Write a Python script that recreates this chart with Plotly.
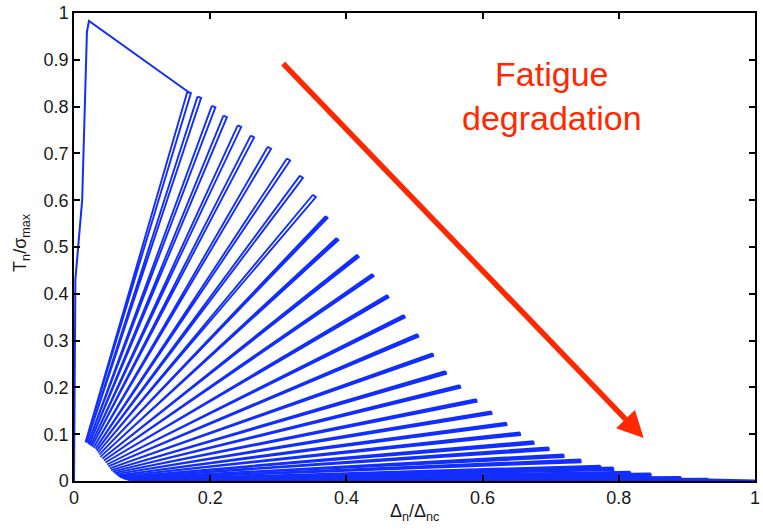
import numpy as np
import plotly.graph_objects as go

# ---------------- data ----------------
# initial loading branch and softening envelope up to the first cycle
load_x = [0.0, 0.002, 0.012, 0.015, 0.019, 0.022, 0.169]
load_y = [0.0, 0.43, 0.60, 0.76, 0.96, 0.983, 0.830]

# peaks of the successive fatigue loading blocks
peak_x = [0.169, 0.184, 0.205, 0.222, 0.243, 0.262, 0.287, 0.315, 0.334, 0.353,
          0.371, 0.387, 0.417, 0.439, 0.461, 0.485, 0.505, 0.527, 0.546, 0.567,
          0.591, 0.613, 0.635, 0.655, 0.675, 0.697, 0.719, 0.744, 0.773, 0.792,
          0.817, 0.847, 0.891, 0.931]
peak_y = [0.830, 0.820, 0.800, 0.779, 0.758, 0.736, 0.712, 0.687, 0.650, 0.609,
          0.564, 0.517, 0.481, 0.440, 0.395, 0.352, 0.311, 0.270, 0.232, 0.202,
          0.172, 0.146, 0.122, 0.101, 0.082, 0.069, 0.054, 0.043, 0.030, 0.026,
          0.017, 0.013, 0.006, 0.002]

# tail of envelope
tail_x = [0.931, 1.0]
tail_y = [0.002, 0.0]

load_ratio = 0.1  # min/max load ratio of the cycles

x_ticks = [0, 0.2, 0.4, 0.6, 0.8, 1]
x_tick_text = ["0", "0.2", "0.4", "0.6", "0.8", "1"]
y_ticks = [0, 0.1, 0.2, 0.3, 0.4, 0.5, 0.6, 0.7, 0.8, 0.9, 1]
y_tick_text = ["0", "0.1", "0.2", "0.3", "0.4", "0.5", "0.6", "0.7", "0.8", "0.9", "1"]

# ---------------- layout geometry ----------------
W, H = 763, 531
ML, MR, MT, MB = 74, 8, 13, 50
PW = W - ML - MR
PH = H - MT - MB

BLUE = "rgb(18,46,255)"
RED = "rgb(255,40,0)"
FONT = "Liberation Sans, Arial, sans-serif"


def wedges(px_list, py_list, half_w):
    xs, ys = [], []
    for px_, py_ in zip(px_list, py_list):
        bx, by = load_ratio * px_, load_ratio * py_
        dxp = (px_ - bx) * PW
        dyp = (py_ - by) * PH
        L = np.hypot(dxp, dyp)
        nx, ny = -dyp / L, dxp / L
        lx = px_ + nx * half_w / PW
        ly = py_ + ny * half_w / PH
        rx = px_ - nx * half_w / PW
        ry = py_ - ny * half_w / PH
        xs += [lx, bx, rx, lx, None]
        ys += [ly, by, ry, ly, None]
    return xs, ys


px_arr = np.array(peak_x)
py_arr = np.array(peak_y)
upper = py_arr >= 0.6
lower = ~upper

fig = go.Figure()
ux, uy = wedges(px_arr[upper], py_arr[upper], 1.9)
fig.add_trace(go.Scatter(x=ux, y=uy, mode="lines",
                         line=dict(color=BLUE, width=1.9), hoverinfo="skip"))
lx_, ly_ = wedges(px_arr[lower], py_arr[lower], 1.4)
fig.add_trace(go.Scatter(x=lx_, y=ly_, mode="lines", fill="toself", fillcolor=BLUE,
                         line=dict(color=BLUE, width=1.8), hoverinfo="skip"))
fig.add_trace(go.Scatter(x=load_x, y=load_y, mode="lines",
                         line=dict(color=BLUE, width=2), hoverinfo="skip"))
fig.add_trace(go.Scatter(x=tail_x, y=tail_y, mode="lines",
                         line=dict(color=BLUE, width=3), hoverinfo="skip"))

font_tick = dict(family=FONT, size=18, color="#1a1a1a")

fig.update_layout(
    width=W, height=H,
    margin=dict(l=ML, r=MR, t=MT, b=MB),
    paper_bgcolor="white", plot_bgcolor="white",
    showlegend=False,
    xaxis=dict(range=[0, 1], tickvals=x_ticks, ticktext=x_tick_text,
               showgrid=False, zeroline=False, showline=True, linecolor="black",
               linewidth=1.5, mirror="ticks", ticks="inside", ticklen=6,
               tickwidth=1.5, tickcolor="black", tickfont=font_tick,
               automargin=False),
    yaxis=dict(range=[0, 1], tickvals=y_ticks, ticktext=y_tick_text,
               showgrid=False, zeroline=False, showline=True, linecolor="black",
               linewidth=1.5, mirror="ticks", ticks="inside", ticklen=6,
               tickwidth=1.5, tickcolor="black", tickfont=font_tick,
               automargin=False),
)

# axis titles as annotations (precise placement)
fig.add_annotation(x=0.5, y=-0.068, xref="paper", yref="paper",
                   text="Δ<sub>n</sub>/Δ<sub>nc</sub>", showarrow=False,
                   font=dict(family=FONT, size=18, color="#1a1a1a"),
                   xanchor="center", yanchor="middle")
fig.add_annotation(x=-0.077, y=0.51, xref="paper", yref="paper",
                   text="T<sub>n</sub>/σ<sub>max</sub>", showarrow=False, textangle=-90,
                   font=dict(family=FONT, size=18, color="#1a1a1a"),
                   xanchor="center", yanchor="middle")

fig.add_annotation(x=0.8365, y=0.092, ax=0.305, ay=0.895,
                   xref="x", yref="y", axref="x", ayref="y",
                   showarrow=True, arrowhead=2, arrowsize=0.95, arrowwidth=5.5,
                   arrowcolor=RED, text="")
fig.add_annotation(x=0.7025, y=0.822, xref="x", yref="y",
                   text="Fatigue<br>degradation", showarrow=False,
                   font=dict(family=FONT, size=34, color=RED),
                   xanchor="center", yanchor="middle")

fig.write_html("out.html", config={"displayModeBar": False},
               post_script="document.body.style.margin='0';document.body.style.padding='0';")
